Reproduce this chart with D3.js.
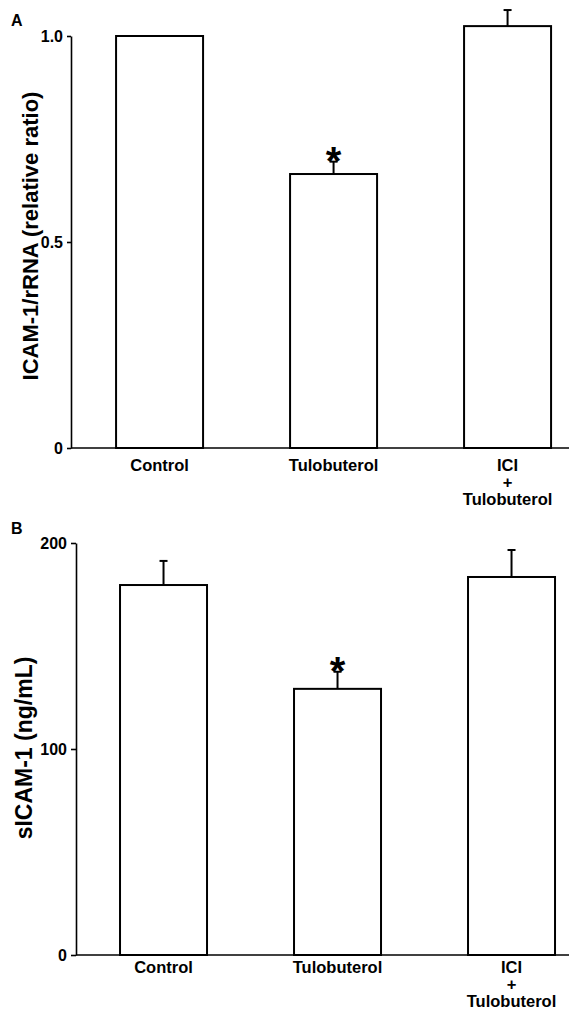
<!DOCTYPE html>
<html>
<head>
<meta charset="utf-8">
<script src="https://cdn.jsdelivr.net/npm/d3@7"></script>
<style>
  body { margin: 0; background: white; }
  text { font-family: "Liberation Sans", Arial, sans-serif; font-weight: bold; fill: black; }
</style>
</head>
<body>
<div id="chart"></div>
<script>
// Data
const groups = ["Control", "Tulobuterol", "ICI + Tulobuterol"];
const groupLines = [["Control"], ["Tulobuterol"], ["ICI", "+", "Tulobuterol"]];
const significant = [false, true, false];

// Panel A: ICAM-1 mRNA relative ratio
const ratioMean = [1.0, 0.665, 1.024];
const ratioErr = [0, 0.03, 0.039];
const ratioTicks = [0, 0.5, 1.0];
const ratioTickLabels = ["0", "0.5", "1.0"];

// Panel B: sICAM-1 concentration
const sicamMean = [179.6, 129.2, 183.5];
const sicamErr = [11.7, 8.3, 13.1];
const sicamTicks = [0, 100, 200];
const sicamTickLabels = ["0", "100", "200"];

let width = 569;
let height = 1009;

let svg = d3.select('#chart')
            .append('svg')
            .attr('width', width)
            .attr('height', height)
            .style('background', 'white');

function drawPanel(opt) {
    let g = svg.append('g');

    let yScale = d3.scaleLinear()
                   .domain(opt.domain)
                   .range([opt.bottom, opt.top]);

    // band scale: bars are half a step wide
    let xScale = d3.scaleBand()
                   .domain(groups)
                   .range([opt.left, opt.left + 174 * (2.5 + 2 * opt.outer)])
                   .paddingInner(0.5)
                   .paddingOuter(opt.outer);

    // bars
    g.selectAll('rect.bar')
     .data(groups)
     .enter()
     .append('rect')
     .attr('class', 'bar')
     .attr('x', d => xScale(d))
     .attr('y', (d, i) => yScale(opt.mean[i]))
     .attr('width', xScale.bandwidth())
     .attr('height', (d, i) => opt.bottom - yScale(opt.mean[i]))
     .attr('fill', 'white')
     .attr('stroke', 'black')
     .attr('stroke-width', 2);

    // error bars (upper half only)
    groups.forEach((d, i) => {
        if (opt.err[i] <= 0) return;
        let cx = xScale(d) + xScale.bandwidth() / 2;
        let yTop = yScale(opt.mean[i] + opt.err[i]);
        g.append('line')
         .attr('x1', cx).attr('x2', cx)
         .attr('y1', yScale(opt.mean[i]))
         .attr('y2', yTop)
         .attr('stroke', 'black')
         .attr('stroke-width', 2);
        g.append('line')
         .attr('x1', cx - 4).attr('x2', cx + 4)
         .attr('y1', yTop).attr('y2', yTop)
         .attr('stroke', 'black')
         .attr('stroke-width', 2);
        if (significant[i]) {
            g.append('text')
             .attr('x', cx)
             .attr('y', yTop + 13)
             .attr('text-anchor', 'middle')
             .style('font-size', '40px')
             .text('*');
        }
    });

    // y axis
    let yAxis = g.append('g')
                 .attr('transform', `translate(${opt.left}, 0)`)
                 .call(d3.axisLeft(yScale)
                         .tickValues(opt.ticks)
                         .tickFormat((d, i) => opt.tickLabels[i])
                         .tickSize(opt.tickSize)
                         .tickSizeOuter(0)
                         .tickPadding(4));
    yAxis.select('.domain').attr('stroke-width', 1.6);
    yAxis.selectAll('.tick line').attr('stroke-width', 1.6);
    yAxis.selectAll('.tick text')
         .style('font-size', '16px')
         .style('font-family', '"Liberation Sans", Arial, sans-serif')
         .style('font-weight', 'bold');

    // x axis line (no ticks), runs off the right edge
    g.append('line')
     .attr('x1', opt.left).attr('x2', width)
     .attr('y1', opt.bottom).attr('y2', opt.bottom)
     .attr('stroke', 'black')
     .attr('stroke-width', 1.6);

    // category labels, one text per line
    groups.forEach((d, i) => {
        groupLines[i].forEach((line, j) => {
            g.append('text')
             .attr('x', xScale(d) + xScale.bandwidth() / 2)
             .attr('y', opt.bottom + opt.labelOff + j * 17)
             .attr('text-anchor', 'middle')
             .style('font-size', '16.5px')
             .text(line);
        });
    });

    // y axis title
    g.append('text')
     .attr('transform', `translate(${opt.titleX}, ${opt.titleY}) rotate(-90)`)
     .attr('text-anchor', 'middle')
     .style('font-size', opt.titleSize)
     .text(opt.title);

    // panel letter
    g.append('text')
     .attr('x', 11)
     .attr('y', opt.letterY)
     .style('font-size', '16px')
     .text(opt.letter);
}

drawPanel({
    domain: [0, 1], top: 36, bottom: 448, left: 71, outer: 0.259,
    mean: ratioMean, err: ratioErr,
    ticks: ratioTicks, tickLabels: ratioTickLabels, tickSize: 4,
    labelOff: 23,
    title: 'ICAM-1/rRNA (relative ratio)', titleX: 38, titleY: 236, titleSize: '22px',
    letter: 'A', letterY: 26
});

drawPanel({
    domain: [0, 200], top: 543, bottom: 955, left: 76, outer: 0.253,
    mean: sicamMean, err: sicamErr,
    ticks: sicamTicks, tickLabels: sicamTickLabels, tickSize: 5,
    labelOff: 18,
    title: 'sICAM-1 (ng/mL)', titleX: 32, titleY: 748, titleSize: '23px',
    letter: 'B', letterY: 534
});
</script>
</body>
</html>
